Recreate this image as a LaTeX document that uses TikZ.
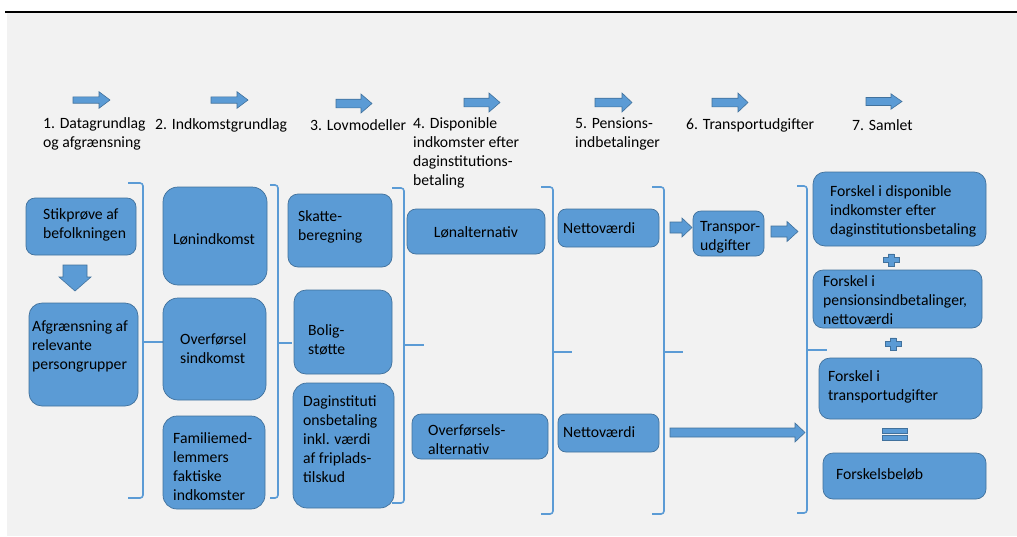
\documentclass[tikz,border=0pt]{standalone}
\usepackage{fontspec}
\setmainfont{Carlito}
\usetikzlibrary{fit}
\definecolor{bfill}{HTML}{5B9BD5}
\definecolor{bline}{HTML}{41719C}
\definecolor{bgc}{HTML}{F2F2F2}
\newcommand\fs{\fontsize{15.7}{19}\selectfont}
\newcommand\myrarrow[6]{\draw[blockarrow] (#1,#3-#4) -- (#6,#3-#4) -- (#6,#3-#5) -- (#2,#3) -- (#6,#3+#5) -- (#6,#3+#4) -- (#1,#3+#4) -- cycle;}
\newcommand\myplus[2]{\draw[blockarrow] (#1-2.8,#2-6.2) -- (#1+2.8,#2-6.2) -- (#1+2.8,#2-2.4) -- (#1+8,#2-2.4) -- (#1+8,#2+2.4) -- (#1+2.8,#2+2.4) -- (#1+2.8,#2+6.2) -- (#1-2.8,#2+6.2) -- (#1-2.8,#2+2.4) -- (#1-8,#2+2.4) -- (#1-8,#2-2.4) -- (#1-2.8,#2-2.4) -- cycle;}
\newcommand\mybrace[6]{\draw[bracestyle] (#1,#3) -- (#2,#3) -- (#2,#4) -- (#1,#4); \draw[bracestyle] (#2,#5) -- (#6,#5);}
\begin{document}
\begin{tikzpicture}[x=1pt,y=-1pt,
  box/.style={draw=bline, fill=bfill, line width=0.7pt, inner sep=0pt, rounded corners=#1},
  box/.default=9pt,
  txt/.style={font=\fs, align=left, inner sep=0pt, anchor=west, text=black},
  blockarrow/.style={fill=bfill, draw=bline, line width=0.6pt},
  bracestyle/.style={draw=bfill, line width=1.6pt, rounded corners=3pt}]
\useasboundingbox (0,0) rectangle (1017,536);
\fill[white] (0,0) rectangle (1017,536);
\fill[bgc] (7,13) rectangle (1017,536);
\draw[black, line width=2pt] (5,12) -- (1017,12);

% top arrows
\myrarrow{73}{110}{100}{3.2}{8.3}{99}
\myrarrow{211}{248}{100}{3.2}{8.3}{237}
\myrarrow{336}{372}{103.5}{4.3}{9.5}{361}
\myrarrow{464}{500}{102.5}{4.3}{9.5}{489}
\myrarrow{595}{632}{102.5}{4.3}{9.5}{622}
\myrarrow{712}{748}{102.5}{4.3}{9.5}{738}
\myrarrow{866}{902}{101.5}{4}{7.7}{891}

% top labels
\node[txt] (t1) at (43,134) {1. Datagrundlag\\og afgrænsning};
\node[txt] (t2) at (155,125) {2. Indkomstgrundlag};
\node[txt] (t3) at (310,125) {3. Lovmodeller};
\node[txt] (t4) at (413,153) {4. Disponible\\indkomster efter\\daginstitutions-\\betaling};
\node[txt] (t5) at (575,134) {5. Pensions-\\indbetalinger};
\node[txt] (t6) at (686,125) {6. Transportudgifter};
\node[txt] (t7) at (852,125) {7. Samlet};

% braces
\mybrace{128}{143}{183}{498}{342}{163}
\mybrace{270}{278}{185}{498}{343}{292}
\mybrace{392}{404}{188}{503}{345}{424}
\mybrace{541}{553}{187}{514}{352}{572}
\mybrace{652}{664}{187}{514}{352}{683}
\mybrace{797}{807}{186}{513}{350}{827}

% boxes
\node[box=9pt,  fit={(26,198) (136,255)}] (stik) {};
\node[box=13pt, fit={(29,303) (138,406)}] (afgr) {};
\node[box=15pt, fit={(163,187) (267,285)}] (lon) {};
\node[box=15pt, fit={(163,298) (266,400)}] (overf) {};
\node[box=14pt, fit={(163,416) (265,509)}] (fam) {};
\node[box=10pt, fit={(288,194) (392,267)}] (skat) {};
\node[box=12pt, fit={(294,290) (392,374)}] (bolig) {};
\node[box=14pt, fit={(293,383) (394,508)}] (dag) {};
\node[box=9pt,  fit={(407,209) (545,254)}] (lonalt) {};
\node[box=9pt,  fit={(412,414) (548,459)}] (ovalt) {};
\node[box=8pt,  fit={(558,209) (659,247)}] (net1) {};
\node[box=8pt,  fit={(558,414) (659,452)}] (net2) {};
\node[box=8pt,  fit={(693,211) (764,256)}] (trans) {};
\node[box=12pt, fit={(813,172) (986,246)}] (fdisp) {};
\node[box=10pt, fit={(813,270) (982,328)}] (fpens) {};
\node[box=11pt, fit={(819,358) (982,419)}] (ftrans) {};
\node[box=10pt, fit={(823,453) (986,499)}] (fbel) {};

% box texts
\node[txt] (stikT) at (43,225) {Stikprøve af\\befolkningen};
\node[txt] (afgrT) at (32,346) {Afgrænsning af\\relevante\\persongrupper};
\node[txt, anchor=center] (lonT) at (214,239) {Lønindkomst};
\node[txt] (overfT) at (180,348.5) {Overførsel\\sindkomst};
\node[txt] (famT) at (173,466.5) {Familiemed-\\lemmers\\faktiske\\indkomster};
\node[txt] (skatT) at (298,226.5) {Skatte-\\beregning};
\node[txt] (boligT) at (308,339.5) {Bolig-\\støtte};
\node[txt] (dagT) at (303,439) {Daginstituti\\onsbetaling\\inkl. værdi\\af friplads-\\tilskud};
\node[txt, anchor=center] (lonaltT) at (476,232) {Lønalternativ};
\node[txt] (ovaltT) at (428,439.5) {Overførsels-\\alternativ};
\node[txt] (net1T) at (563,228) {Nettoværdi};
\node[txt] (net2T) at (563,432) {Nettoværdi};
\node[txt] (transT) at (700,237) {Transpor-\\udgifter};
\node[txt] (fdispT) at (830,211) {Forskel i disponible\\indkomster efter\\daginstitutionsbetaling};
\node[txt] (fpensT) at (823,300) {Forskel i\\pensionsindbetalinger,\\nettoværdi};
\node[txt] (ftransT) at (828,387) {Forskel i\\transportudgifter};
\node[txt] (fbelT) at (836,474) {Forskelsbeløb};

% down arrow
\draw[blockarrow] (63,265) -- (87,265) -- (87,277) -- (91,277) -- (75,291) -- (59,277) -- (63,277) -- cycle;
% small arrows
\myrarrow{670}{692}{227.5}{5.5}{9.5}{682}
\myrarrow{771}{798}{231.5}{5.5}{10}{787}
\myrarrow{670}{805}{432.5}{4.5}{9.5}{795}

% plus and equals
\myplus{891}{260}
\myplus{893}{344}
\draw[blockarrow] (882,428.3) rectangle (907,433.3);
\draw[blockarrow] (882,435.7) rectangle (907,440.7);
\end{tikzpicture}
\end{document}
